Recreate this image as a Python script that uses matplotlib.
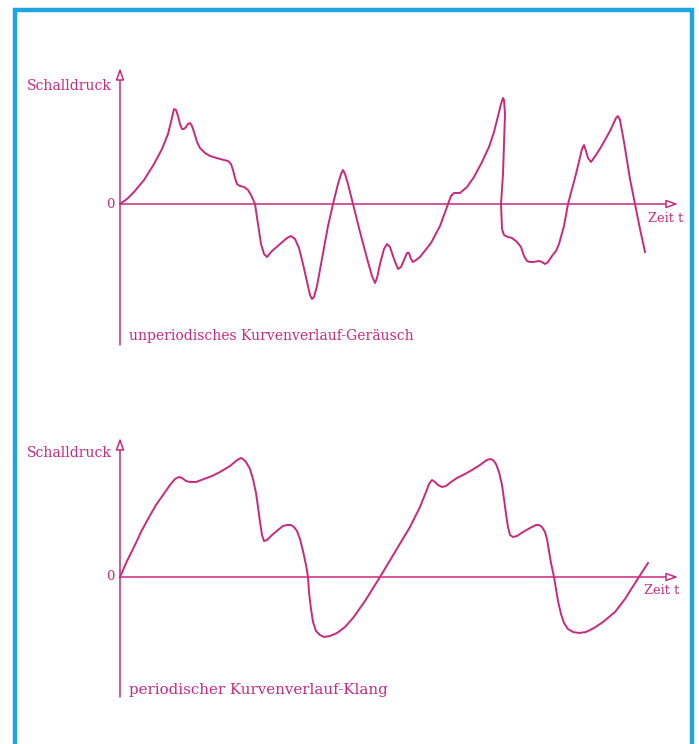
import matplotlib.pyplot as plt
from matplotlib.patches import Rectangle

# Kurvenpunkte: (Zeit t, Schalldruck p), beliebige Einheiten
noise = [(0, 0), (7, 5), (14, 12), (24, 24), (34, 40), (42, 55), (48, 70), (51, 82),
         (54, 95), (56, 94), (58, 88), (60, 80), (62, 75), (64, 75), (66, 77), (68, 80),
         (70, 81), (72, 78), (74, 72), (77, 62), (80, 56), (85, 51), (90, 48), (100, 45),
         (108, 43), (111, 40), (113, 34), (115, 26), (117, 20), (120, 18), (124, 17),
         (128, 14), (131, 9), (135, 0), (138, -20), (141, -40), (144, -50), (147, -53),
         (152, -47), (160, -40), (167, -34), (171, -32), (175, -35), (179, -44),
         (183, -60), (187, -78), (190, -91), (192, -95), (194, -93), (197, -82),
         (202, -55), (208, -22), (213, 0), (218, 20), (221, 30), (223, 34), (225, 30),
         (228, 20), (233, 0), (240, -28), (248, -58), (252, -72), (255, -79), (257, -74),
         (260, -60), (264, -45), (267, -40), (270, -43), (274, -55), (278, -65),
         (281, -63), (284, -56), (287, -49), (289, -49), (291, -55), (293, -58),
         (296, -56), (300, -53), (311, -39), (320, -22), (327, -3), (331, 8), (334, 11),
         (340, 11), (347, 17), (354, 27), (362, 42), (369, 57), (374, 72), (378, 88),
         (381, 100), (383, 106), (384, 104), (385, 90), (384, 60), (383, 30), (381, 0),
         (382, -25), (384, -31), (388, -33), (392, -34), (397, -38), (401, -43),
         (404, -52), (407, -57), (410, -58), (413, -58), (419, -57), (422, -58),
         (425, -60), (428, -58), (432, -52), (436, -47), (439, -40), (444, -22),
         (448, 0), (456, 30), (462, 55), (464, 59), (466, 53), (468, 46), (471, 42),
         (476, 49), (481, 57), (490, 73), (496, 86), (498, 88), (500, 84), (504, 62),
         (510, 25), (515, 0), (520, -25), (525, -48)]

sound = [(0, 0), (7, 16), (14, 30), (21, 45), (28, 58), (36, 72), (43, 82), (50, 92),
         (55, 98), (59, 100), (62, 99), (66, 96), (70, 95), (76, 95), (84, 98),
         (92, 101), (100, 105), (110, 111), (116, 116), (119, 118), (121, 119),
         (123, 118), (126, 115), (130, 108), (133, 98), (136, 84), (138, 70), (140, 55),
         (142, 42), (144, 36), (147, 37), (152, 42), (158, 47), (163, 51), (167, 52),
         (171, 52), (174, 50), (177, 46), (180, 38), (183, 26), (186, 12), (188, 0),
         (189, -15), (191, -32), (193, -45), (196, -54), (200, -58), (204, -60),
         (210, -59), (217, -56), (225, -50), (233, -41), (245, -24), (260, 0), (275, 25),
         (290, 50), (300, 70), (306, 85), (309, 93), (312, 97), (315, 95), (318, 92),
         (322, 90), (326, 91), (331, 95), (337, 99), (345, 103), (352, 107), (360, 112),
         (364, 115), (367, 117), (370, 118), (373, 117), (376, 113), (379, 105),
         (382, 92), (384, 78), (386, 63), (388, 50), (390, 42), (393, 40), (397, 41),
         (403, 45), (410, 49), (416, 52), (419, 52), (422, 50), (425, 45), (427, 38),
         (429, 26), (431, 14), (434, 0), (436, -12), (438, -24), (441, -37), (444, -46),
         (448, -52), (453, -55), (459, -56), (466, -55), (474, -51), (483, -45),
         (495, -35), (505, -22), (517, -3), (528, 14)]

t_noise, p_noise = zip(*noise)
t_sound, p_sound = zip(*sound)

pink = "#c9287c"
blue = "#1ea6e2"
serif = "DejaVu Serif"

fig = plt.figure(figsize=(6.99, 7.44), dpi=100)
fig.patch.set_facecolor("white")

# blauer Rahmen
fig.patches.append(Rectangle((15 / 699, -0.02), 677 / 699, 1 - 10 / 744 + 0.02,
                             transform=fig.transFigure, fill=False,
                             edgecolor=blue, linewidth=3.2))


def panel(top, bottom, zero, t, p, caption, cap_p, cap_size, y_top, y_bot,
          label_p, zeit_t):
    ax = fig.add_axes([20 / 699, 1 - bottom / 744, 670 / 699, (bottom - top) / 744])
    ax.set_xlim(-100, 570)
    ax.set_ylim(zero - bottom, zero - top)
    ax.axis("off")
    ax.plot(t, p, color=pink, lw=1.4, solid_joinstyle="round")
    arrow = dict(arrowstyle="-|>,head_length=0.7,head_width=0.25", color=pink,
                 fc="white", lw=1.1, shrinkA=0, shrinkB=0)
    ax.annotate("", xy=(558, 0), xytext=(0, 0), arrowprops=arrow)
    ax.annotate("", xy=(0, y_top), xytext=(0, y_bot), arrowprops=arrow)
    ax.text(-8, label_p, "Schalldruck", color=pink, family=serif, fontsize=10,
            ha="right", va="center")
    ax.text(-6, 0, "0", color=pink, family=serif, fontsize=9.5, ha="right", va="center")
    ax.text(zeit_t, -14, "Zeit t", color=pink, family=serif, fontsize=9.3,
            ha="left", va="center")
    ax.text(9, cap_p, caption, color=pink, family=serif, fontsize=cap_size,
            ha="left", va="center")
    return ax


panel(55, 365, 204, t_noise, p_noise, "unperiodisches Kurvenverlauf-Geräusch",
      -132, 10, 136, -141, 118, 528)
panel(420, 715, 577, t_sound, p_sound, "periodischer Kurvenverlauf-Klang",
      -113, 10.8, 139, -120, 124, 524)

fig.savefig("out.png", dpi=100)
